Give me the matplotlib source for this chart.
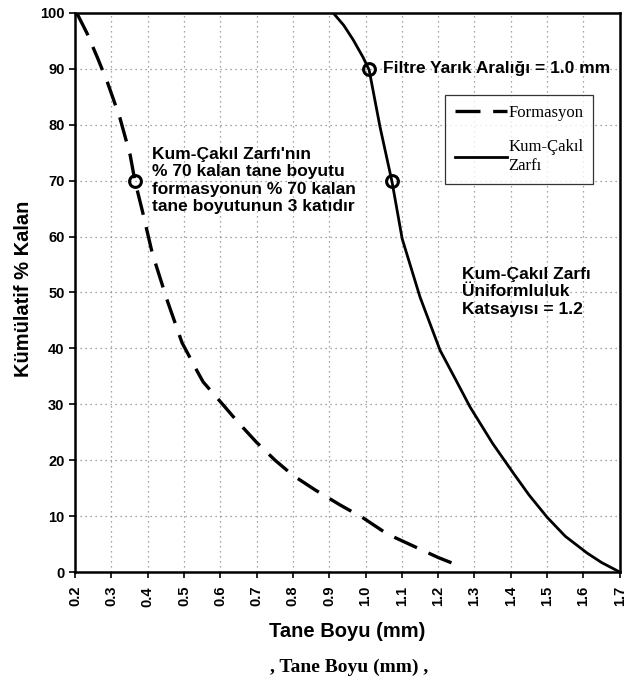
import numpy as np
import matplotlib as mpl
import matplotlib.pyplot as plt

mpl.rcParams['font.family'] = ['Liberation Sans', 'DejaVu Sans']

# Formasyon (dashed)
form_x = [0.205, 0.233, 0.262, 0.29, 0.324, 0.352, 0.365, 0.386, 0.413, 0.455, 0.495, 0.536,
          0.553, 0.60, 0.649, 0.70, 0.751, 0.80, 0.861, 0.93, 0.993, 1.06, 1.13, 1.20, 1.266]
form_y = [100, 96.4, 92, 87.5, 81.2, 74.6, 70, 64.5, 57, 48.4, 41, 36,
          34, 30.5, 26.8, 23.2, 20, 17.3, 14.7, 12, 9.7, 6.8, 4.7, 2.6, 0.9]

# Kum-Cakil Zarfi (solid)
zarf_x = [0.911, 0.94, 0.966, 0.993, 1.010, 1.040, 1.073, 1.101, 1.150, 1.205, 1.25, 1.288,
          1.35, 1.407, 1.45, 1.500, 1.55, 1.61, 1.65, 1.70]
zarf_y = [100, 97.8, 95.2, 92.1, 89.8, 79.6, 69.8, 59.6, 49.2, 39.7, 34.2, 29.5,
          23.0, 17.7, 13.8, 9.8, 6.4, 3.4, 1.7, 0]

# circled points
mark_x = [0.365, 1.010, 1.073]
mark_y = [70, 90, 70]

xticks = np.round(np.arange(0.2, 1.71, 0.1), 1)
yticks = np.arange(0, 101, 10)

fig = plt.figure(figsize=(6.35, 6.81), dpi=100)
ax = fig.add_axes([0.118, 0.160, 0.858, 0.821])

ax.plot(form_x, form_y, color='black', lw=2.4, dashes=(7.5, 3.8), label='Formasyon')
ax.plot(zarf_x, zarf_y, color='black', lw=2.0, label='Kum-Çakıl\nZarfı')
ax.plot(mark_x, mark_y, 'o', ms=8.5, mfc='none', mec='black', mew=2.2)

ax.set_xlim(0.2, 1.7)
ax.set_ylim(0, 100)
ax.set_xticks(xticks)
ax.set_xticklabels(['%.1f' % v for v in xticks], rotation=90, fontsize=10.5, fontweight='bold')
ax.set_yticks(yticks)
ax.set_yticklabels([str(v) for v in yticks], fontsize=10.5, fontweight='bold')
ax.tick_params(direction='out', length=4, width=1.2)
ax.tick_params(axis='x', pad=6)
ax.grid(True, color='#888888', linestyle=(0, (1, 3)), lw=0.9)
for s in ax.spines.values():
    s.set_linewidth(1.8)

ax.set_xlabel('Tane Boyu (mm)', fontsize=14.5, fontweight='bold')
ax.xaxis.set_label_coords(0.5, -0.107)
ax.xaxis.label.set_va('center')
ax.set_ylabel('Kümülatif % Kalan', fontsize=14.5, fontweight='bold')
ax.yaxis.set_label_coords(-0.094, 0.506)
ax.yaxis.label.set_va('center')

ax.text(1.048, 90, 'Filtre Yarık Aralığı = 1.0 mm', fontsize=12.5, fontweight='bold', va='center')
ax.text(0.412, 70, "Kum-Çakıl Zarfı'nın\n% 70 kalan tane boyutu\nformasyonun % 70 kalan\ntane boyutunun 3 katıdır",
        fontsize=12.5, fontweight='bold', va='center', linespacing=1.2)
ax.text(1.266, 50.1, 'Kum-Çakıl Zarfı\nÜniformluluk\nKatsayısı = 1.2', fontsize=12.5, fontweight='bold',
        va='center', linespacing=1.2)

leg = ax.legend(loc='upper left', bbox_to_anchor=(0.679, 0.853), handlelength=3.1, handletextpad=0.1,
                labelspacing=1.1, frameon=True, fancybox=False, borderpad=0.6, borderaxespad=0,
                prop={'family': 'Liberation Serif', 'size': 12})
leg.get_frame().set_edgecolor('black')
leg.get_frame().set_linewidth(0.9)

fig.text(0.55, 0.0206, ", Tane Boyu (mm) ,", fontsize=14, fontweight='bold', family='Liberation Serif',
         ha='center', va='center')

fig.savefig('out.png', dpi=100)
